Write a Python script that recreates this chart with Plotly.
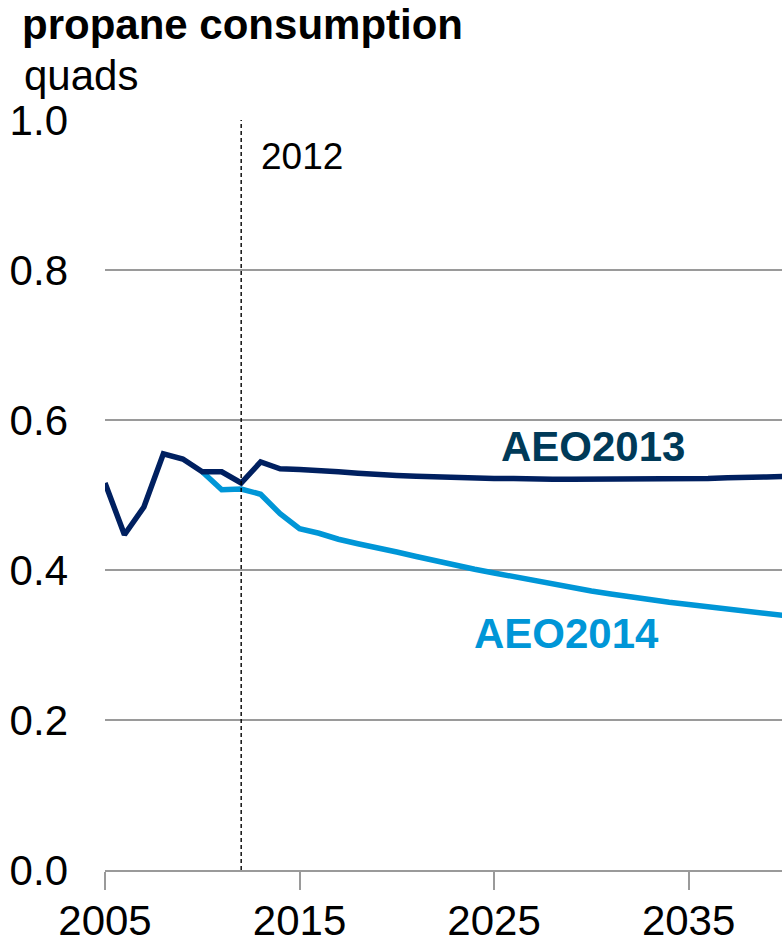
import plotly.graph_objects as go

years = list(range(2005, 2041))
aeo2013 = [0.516, 0.447, 0.484, 0.555, 0.548, 0.531, 0.531, 0.516, 0.544, 0.535,
           0.534, 0.533, 0.531, 0.529, 0.527, 0.526, 0.525, 0.524, 0.523, 0.523,
           0.522, 0.522, 0.521, 0.521, 0.521, 0.521, 0.521, 0.521, 0.521, 0.521,
           0.522, 0.522, 0.523, 0.523, 0.524, 0.525]
aeo2014_years = list(range(2010, 2041))
aeo2014 = [0.531, 0.507, 0.508, 0.501, 0.475, 0.455, 0.449, 0.441, 0.435, 0.430,
           0.424, 0.418, 0.412, 0.407, 0.401, 0.396, 0.391, 0.386, 0.381, 0.376,
           0.372, 0.368, 0.364, 0.360, 0.357, 0.354, 0.351, 0.348, 0.345, 0.342,
           0.339]
y_ticks = [0.0, 0.2, 0.4, 0.6, 0.8, 1.0]
x_ticks = [2005, 2015, 2025, 2035]
marker_year = 2012

FONT = "Liberation Sans, Arial, sans-serif"
DARK = "#002060"
LIGHT = "#0096D7"

fig = go.Figure()
fig.add_trace(go.Scatter(x=aeo2014_years, y=aeo2014, mode="lines",
                         line=dict(color=LIGHT, width=5.5), name="AEO2014"))
fig.add_trace(go.Scatter(x=years, y=aeo2013, mode="lines",
                         line=dict(color=DARK, width=5.5), name="AEO2013"))

fig.add_shape(type="line", x0=marker_year, x1=marker_year, y0=0, y1=1,
              xref="x", yref="y", line=dict(color="black", width=1.4, dash="4px,3px"))

plot_left = 105
plot_w = 782 - plot_left

def px(xpix):
    return (xpix - plot_left) / plot_w

fig.add_annotation(text="<b>propane consumption</b>", xref="paper", yref="paper",
                   x=px(20), y=1.0, yshift=120 - 24, xanchor="left", yanchor="middle",
                   showarrow=False, font=dict(size=42, color="black", family=FONT))
fig.add_annotation(text="quads", xref="paper", yref="paper",
                   x=px(22), y=1.0, yshift=120 - 75, xanchor="left", yanchor="middle",
                   showarrow=False, font=dict(size=42, color="black", family=FONT))
fig.add_annotation(text="2012", x=marker_year, y=0.952, xref="x", yref="y",
                   xanchor="left", yanchor="middle", xshift=18, showarrow=False,
                   font=dict(size=37, color="black", family=FONT))
fig.add_annotation(text="<b>AEO2013</b>", x=2030.1, y=0.565, xref="x", yref="y",
                   xanchor="center", yanchor="middle", showarrow=False,
                   font=dict(size=42, color="#003A58", family=FONT))
fig.add_annotation(text="<b>AEO2014</b>", x=2028.7, y=0.316, xref="x", yref="y",
                   xanchor="center", yanchor="middle", showarrow=False,
                   font=dict(size=42, color=LIGHT, family=FONT))

fig.update_layout(
    width=782, height=943,
    margin=dict(l=plot_left, r=0, t=120, b=73),
    paper_bgcolor="white", plot_bgcolor="white",
    showlegend=False,
    font=dict(family=FONT, color="black"),
)
fig.update_xaxes(range=[2005, 2039.8], tickvals=x_ticks, ticktext=[str(v) for v in x_ticks],
                 ticks="outside", ticklen=18, tickcolor="#9a9a9a", tickwidth=2,
                 showline=True, linecolor="#9a9a9a", linewidth=2, showgrid=False,
                 zeroline=False, automargin=False, ticklabelstandoff=-5,
                 tickfont=dict(size=42, family=FONT, color="black"))
fig.update_yaxes(range=[0, 1.0], tickvals=y_ticks, ticktext=[f"{v:.1f}" for v in y_ticks],
                 showgrid=True, gridcolor="#9a9a9a", gridwidth=2, zeroline=False,
                 showline=False, ticks="", ticklabelstandoff=36, automargin=False,
                 tickfont=dict(size=42, family=FONT, color="black"))

fig.write_html("out.html", config={"displayModeBar": False},
               post_script="document.body.style.margin='0';document.body.style.overflow='hidden';")
